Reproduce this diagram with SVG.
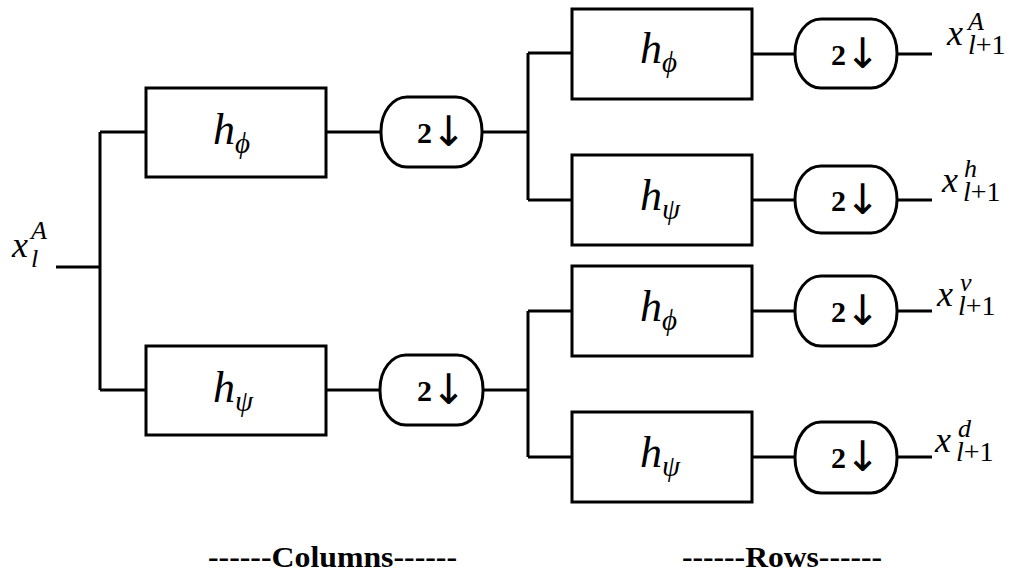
<svg xmlns="http://www.w3.org/2000/svg" width="1016" height="584" viewBox="0 0 1016 584">
<style>
.box{fill:#fff;stroke:#000;stroke-width:3}
.pill{fill:#fff;stroke:#000;stroke-width:3}
.wire{fill:none;stroke:#000;stroke-width:3}
.m{font-family:"Liberation Serif",serif;font-style:italic;font-size:44px;fill:#000}
.s{font-size:29px}
.x{font-family:"Liberation Serif",serif;font-style:italic;font-size:36px;fill:#000}
.sc{font-family:"Liberation Serif",serif;font-style:italic;font-size:26px;fill:#000}
.sr{font-family:"Liberation Serif",serif;font-style:italic;font-size:28px;fill:#000}
.up{font-style:normal}
.two{font-family:"Liberation Serif",serif;font-weight:bold;font-size:30px;fill:#000}
.arr{font-family:"DejaVu Sans",sans-serif;font-weight:normal;font-size:42px}
.cap{font-family:"Liberation Serif",serif;font-weight:bold;font-size:29px;fill:#000}
</style>
<rect width="1016" height="584" fill="#fff"/>
<g id="connectors" class="wire">
<path d="M56,267H100M100,132V390M100,132H146M100,390H146"/>
<path d="M326,132H381M482,132H528M528,53V200M528,53H572M528,200H572"/>
<path d="M326,390H380M483,390H528M528,311V457M528,311H572M528,457H572"/>
<path d="M752,54H795M897,54H932M752,200H795M897,200H932M752,311H795M897,311H932M752,457H795M897,457H932"/>
</g>
<g id="in-label"><text class="x" x="12" y="257">x</text><text class="sc" x="31" y="267">l</text><text class="sc" x="31" y="239">A</text></g>
<g id="col-hphi"><rect class="box" x="146" y="88" width="180" height="89"/><text class="m" x="213" y="144">h<tspan class="s" dy="9">ϕ</tspan></text></g>
<g id="col-hpsi"><rect class="box" x="146" y="346" width="180" height="89"/><text class="m" x="213" y="402">h<tspan class="s" dy="9">ψ</tspan></text></g>
<g id="col-ds1"><rect class="pill" x="381" y="97" width="101" height="70" rx="26" ry="34"/><text class="two" x="417" y="143">2<tspan class="arr" dx="-1" dy="3">↓</tspan></text></g>
<g id="col-ds2"><rect class="pill" x="380" y="355" width="103" height="70" rx="26" ry="34"/><text class="two" x="417" y="401">2<tspan class="arr" dx="-1" dy="3">↓</tspan></text></g>
<g id="row-hphi1"><rect class="box" x="572" y="9" width="180" height="90"/><text class="m" x="640" y="63">h<tspan class="s" dy="9">ϕ</tspan></text></g>
<g id="row-hpsi1"><rect class="box" x="572" y="155" width="180" height="90"/><text class="m" x="640" y="210">h<tspan class="s" dy="9">ψ</tspan></text></g>
<g id="row-hphi2"><rect class="box" x="572" y="266" width="180" height="90"/><text class="m" x="640" y="321">h<tspan class="s" dy="9">ϕ</tspan></text></g>
<g id="row-hpsi2"><rect class="box" x="572" y="412" width="180" height="90"/><text class="m" x="640" y="467">h<tspan class="s" dy="9">ψ</tspan></text></g>
<g id="row-ds1"><rect class="pill" x="795" y="19" width="102" height="69" rx="26" ry="34"/><text class="two" x="831" y="65">2<tspan class="arr" dx="-1" dy="3">↓</tspan></text></g>
<g id="row-ds2"><rect class="pill" x="795" y="166" width="102" height="67" rx="26" ry="33"/><text class="two" x="831" y="211">2<tspan class="arr" dx="-1" dy="3">↓</tspan></text></g>
<g id="row-ds3"><rect class="pill" x="795" y="276" width="102" height="70" rx="26" ry="34"/><text class="two" x="831" y="322">2<tspan class="arr" dx="-1" dy="3">↓</tspan></text></g>
<g id="row-ds4"><rect class="pill" x="795" y="422" width="102" height="71" rx="26" ry="35"/><text class="two" x="831" y="468">2<tspan class="arr" dx="-1" dy="3">↓</tspan></text></g>
<g id="out-A"><text class="x" x="947" y="45">x</text><text class="sr" x="968" y="54">l<tspan class="up">+1</tspan></text><text class="sc" x="968" y="30">A</text></g>
<g id="out-h"><text class="x" x="942" y="192">x</text><text class="sr" x="963" y="201">l<tspan class="up">+1</tspan></text><text class="sc" x="964" y="177">h</text></g>
<g id="out-v"><text class="x" x="937" y="306">x</text><text class="sr" x="958" y="315">l<tspan class="up">+1</tspan></text><text class="sc" x="960" y="291">v</text></g>
<g id="out-d"><text class="x" x="935" y="452">x</text><text class="sr" x="956" y="461">l<tspan class="up">+1</tspan></text><text class="sc" x="958" y="437">d</text></g>
<g id="captions">
<text class="cap" x="208" y="567" textLength="249" lengthAdjust="spacingAndGlyphs">------Columns------</text>
<text class="cap" x="682" y="567" textLength="200" lengthAdjust="spacingAndGlyphs">------Rows------</text>
</g>
</svg>
